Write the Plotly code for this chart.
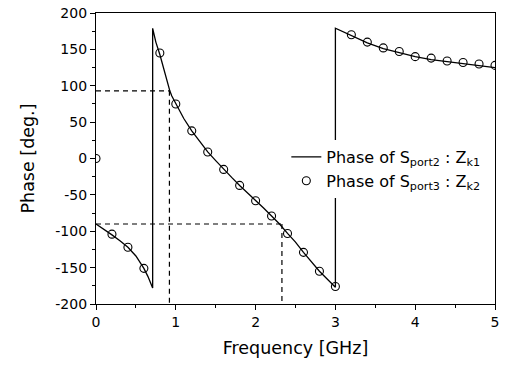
import plotly.graph_objects as go

# Solid line: Phase of S_port2 : Z_k1
line_freq = [0.0, 0.1, 0.2, 0.3, 0.4, 0.5, 0.6, 0.65, 0.71,
             0.71, 0.75, 0.8, 0.85, 0.9, 0.925, 0.95, 1.0, 1.1, 1.2, 1.3, 1.4, 1.5, 1.6, 1.7,
             1.8, 1.9, 2.0, 2.1, 2.2, 2.3, 2.4, 2.5, 2.6, 2.7, 2.8, 2.9, 3.0,
             3.0, 3.1, 3.2, 3.4, 3.6, 3.8, 4.0, 4.2, 4.4, 4.6, 4.8, 5.0]
line_phase = [-90, -97, -105, -113, -122, -134, -151, -162, -178,
              179, 160, 143, 122, 103, 93, 86, 75, 55, 38, 23, 9, -3, -15, -26,
              -37, -47, -58, -68, -79, -90, -103, -115, -129, -142, -155, -166, -177,
              179, 174, 168, 159, 151, 145, 140, 136, 133, 130, 127, 125]

# Circles: Phase of S_port3 : Z_k2
circ_freq = [0.0, 0.2, 0.4, 0.6, 0.8, 1.0, 1.2, 1.4, 1.6, 1.8, 2.0, 2.2, 2.4, 2.6, 2.8, 3.0,
             3.2, 3.4, 3.6, 3.8, 4.0, 4.2, 4.4, 4.6, 4.8, 5.0]
circ_phase = [0, -104, -122, -151, 145, 75, 38, 9, -15, -37, -58, -79, -103, -129, -155, -176,
              170, 160, 152, 147, 140, 138, 134, 132, 130, 128]

# Dashed guide lines (frequency, phase)
guide_freq = [0.92, 2.33]
guide_phase = [93, -90]

# Tick labels
x_tick_vals = [0, 1, 2, 3, 4, 5]
x_tick_text = ["0", "1", "2", "3", "4", "5"]
y_tick_vals = [-200, -150, -100, -50, 0, 50, 100, 150, 200]
y_tick_text = ["-200", "-150", "-100", "-50", "0", "50", "100", "150", "200"]

FONT = "DejaVu Sans, Liberation Sans, Arial, sans-serif"

fig = go.Figure()
fig.add_trace(go.Scatter(
    x=line_freq, y=line_phase, mode="lines",
    line=dict(color="black", width=1.3),
    name="Phase of S<sub>port2</sub> : Z<sub>k1</sub>"))
fig.add_trace(go.Scatter(
    x=circ_freq, y=circ_phase, mode="markers",
    marker=dict(symbol="circle-open", size=8, color="black", line=dict(width=1.1)),
    name="Phase of S<sub>port3</sub> : Z<sub>k2</sub>"))

for gf, gp in zip(guide_freq, guide_phase):
    fig.add_shape(type="line", xref="x", yref="y", x0=0, x1=gf, y0=gp, y1=gp,
                  line=dict(color="black", width=1.2, dash="5px,4px"))
    fig.add_shape(type="line", xref="x", yref="y", x0=gf, x1=gf, y0=gp, y1=-200,
                  line=dict(color="black", width=1.2, dash="5px,4px"))

fig.update_layout(
    width=505, height=369,
    margin=dict(l=96, r=10, t=13, b=65),
    paper_bgcolor="white", plot_bgcolor="white",
    font=dict(family=FONT, color="black"),
    showlegend=True,
    legend=dict(x=0.477, y=0.464, xanchor="left", yanchor="middle",
                bgcolor="white", borderwidth=0,
                font=dict(size=16, family=FONT), tracegroupgap=0,
                itemwidth=30),
)
fig.update_xaxes(
    range=[0, 5], tickvals=x_tick_vals, ticktext=x_tick_text, automargin=False,
    ticklabeloverflow="allow",
    showline=True, linecolor="black", linewidth=1.2, mirror=True,
    ticks="outside", ticklen=5, tickwidth=1.2, tickcolor="black",
    minor=dict(ticks="outside", ticklen=3, dtick=0.5, tickcolor="black", tickwidth=1),
    showgrid=False, zeroline=False,
    tickfont=dict(size=14, family=FONT),
    title=dict(text="Frequency [GHz]", font=dict(size=17.5, family=FONT), standoff=12),
)
fig.update_yaxes(
    range=[-200, 200], tickvals=y_tick_vals, ticktext=y_tick_text, automargin=False,
    ticklabeloverflow="allow",
    showline=True, linecolor="black", linewidth=1.2, mirror=True,
    ticks="outside", ticklen=5, tickwidth=1.2, tickcolor="black",
    minor=dict(ticks="outside", ticklen=3, dtick=25, tickcolor="black", tickwidth=1),
    showgrid=False, zeroline=False,
    tickfont=dict(size=14, family=FONT),
    title=dict(text="Phase [deg.]", font=dict(size=17.5, family=FONT), standoff=16),
)

fig.write_html("out.html", config={"displayModeBar": False},
               post_script="document.body.style.margin='0';")
